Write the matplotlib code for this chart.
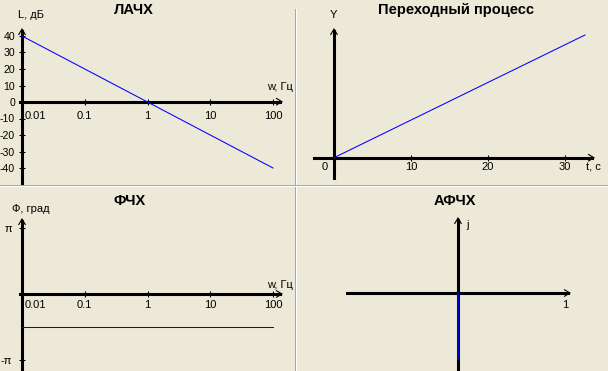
import numpy as np
import matplotlib
matplotlib.use('Agg')
import matplotlib.pyplot as plt
from matplotlib.lines import Line2D
from matplotlib.transforms import IdentityTransform, ScaledTranslation

# ---- data ----
w_lachx = [0.01, 100]
L_db = [40, -40]
w_fchx = [0.01, 100]
phi_fchx = [-np.pi / 2, -np.pi / 2]
t_step = [0, 32.6]
y_step = [0, 32.6]
re_afchx = [0, 0]
im_afchx = [0, -0.62]

freq_ticks = [0.01, 0.1, 1, 10, 100]
freq_labels = ['0.01', '0.1', '1', '10', '100']
db_ticks = [40, 30, 20, 10, 0, -10, -20, -30, -40]
db_labels = ['40', '30', '20', '10', '0', '-10', '-20', '-30', '-40']
t_ticks = [10, 20, 30]
phi_ticks = [np.pi, -np.pi]
phi_labels = ['π', '-π']

W, H = 608, 371
bg = '#ECE9D8'
blue = '#0000FF'

plt.rcParams['font.family'] = ['Liberation Sans', 'DejaVu Sans']
plt.rcParams['font.size'] = 8

fig = plt.figure(figsize=(W / 100, H / 100), dpi=100, facecolor=bg)


def place(L, T, R, B):
    ax = fig.add_axes([L / W, 1 - B / H, (R - L) / W, (B - T) / H])
    ax.set_facecolor('none')
    ax.spines['top'].set_visible(False)
    ax.spines['right'].set_visible(False)
    for s in ('left', 'bottom'):
        ax.spines[s].set_linewidth(2.2)
    return ax


def inv(ax, px, py):
    return ax.transData.inverted().transform((px, H - py))


def arrow(x0, y0, x1, y1):
    plt.annotate('', xy=(x1, H - y1), xytext=(x0, H - y0), xycoords='figure pixels',
                 textcoords='figure pixels',
                 arrowprops=dict(arrowstyle='->,head_length=0.5,head_width=0.3',
                                 lw=0.8, color='black', shrinkA=0, shrinkB=0))


def axis_lines(ax, hx0, hx1, hy, vx, vy0, vy1):
    # horizontal axis from hx0 to hx1 (pixels) at row hy, vertical at column vx
    ax.spines['bottom'].set_position(('data', 0))
    ax.spines['bottom'].set_bounds(inv(ax, hx0, hy)[0], inv(ax, hx1 - 3, hy)[0])
    ax.spines['left'].set_bounds(inv(ax, vx, vy0)[1], inv(ax, vx, vy1 + 3)[1])
    arrow(hx1 - 8, hy, hx1, hy)
    arrow(vx, vy1 + 8, vx, vy1)


def shift_first_label(ax):
    lab = ax.get_xticklabels()[0]
    lab.set_horizontalalignment('left')
    lab.set_transform(lab.get_transform() + ScaledTranslation(3 / 100, 0, fig.dpi_scale_trans))


def ftext(px, py, s, **kw):
    fig.text(px / W, 1 - py / H, s, **kw)


# ---- ЛАЧХ ----
ax1 = place(22, 36, 273, 168)
ax1.set_xscale('log')
ax1.set_xlim(0.01, 100)
ax1.set_ylim(-40, 40)
axis_lines(ax1, 20, 283, 101.7, 22, 184, 28)
ax1.plot(w_lachx, L_db, color=blue, lw=0.75, clip_on=False, zorder=3)
ax1.set_xticks(freq_ticks, freq_labels)
ax1.set_xticks([], minor=True)
ax1.set_yticks(db_ticks, db_labels)
ax1.tick_params(axis='x', direction='inout', length=4.3, width=0.8, pad=4)
ax1.tick_params(axis='y', direction='inout', length=5, width=0.8, pad=2.5, labelsize=7.6)
shift_first_label(ax1)

ftext(134, 10, 'ЛАЧХ', ha='center', va='center', fontweight='bold', fontsize=10.5)
ftext(18, 15, 'L, дБ', ha='left', va='center')
ftext(293, 87, 'w, Гц', ha='right', va='center')

# ---- Переходный процесс ----
ax2 = place(334, 35, 565, 157.7)
ax2.set_xlim(0, 30)
ax2.set_ylim(0, y_step[-1])
axis_lines(ax2, 314, 595, 157.7, 334, 178, 28)
ax2.plot(t_step, y_step, color=blue, lw=0.75, clip_on=False, zorder=3)
ax2.set_xticks(t_ticks)
ax2.set_yticks([])
ax2.tick_params(axis='x', direction='inout', length=4.3, width=0.8, pad=1)

ftext(456, 10, 'Переходный процесс', ha='center', va='center', fontweight='bold', fontsize=10.5)
ftext(333, 15, 'Y', ha='center', va='center')
ftext(586, 167, 't, c', ha='left', va='center')
ftext(325, 167, '0', ha='center', va='center')

# ---- ФЧХ ----
ax3 = place(22, 228, 273, 360)
ax3.set_xscale('log')
ax3.set_xlim(0.01, 100)
ax3.set_ylim(-np.pi, np.pi)
axis_lines(ax3, 20, 283, 294, 22, 372, 218)
ax3.plot(w_fchx, phi_fchx, color=blue, lw=0.75, clip_on=False, zorder=3)
ax3.set_xticks(freq_ticks, freq_labels)
ax3.set_xticks([], minor=True)
ax3.set_yticks(phi_ticks, phi_labels)
ax3.tick_params(axis='x', direction='inout', length=4.3, width=0.8, pad=2)
ax3.tick_params(axis='y', direction='inout', length=5, width=0.8, pad=4.5)
shift_first_label(ax3)

ftext(130, 201, 'ФЧХ', ha='center', va='center', fontweight='bold', fontsize=10.5)
ftext(12, 209, 'Ф, град', ha='left', va='center')
ftext(293, 285, 'w, Гц', ha='right', va='center')

# ---- АФЧХ ----
ax4 = place(458, 293, 565, 359)
ax4.set_xlim(0, 1)
ax4.set_ylim(im_afchx[-1], 0)
axis_lines(ax4, 347, 571, 293, 458, 372, 217)
ax4.plot(re_afchx, im_afchx, color=blue, lw=1.2, clip_on=False, zorder=3)
ax4.set_xticks([1], ['1'])
ax4.set_yticks([])
ax4.tick_params(axis='x', length=0, pad=5)

ftext(455, 201, 'АФЧХ', ha='center', va='center', fontweight='bold', fontsize=10.5)
ftext(468, 225, 'j', ha='center', va='center')

# ---- panel separators ----
for x0, y0, x1, y1, c in [(294.5, 9, 294.5, 184, '#ACA899'), (295.5, 9, 295.5, 184, 'white'),
                          (294.5, 187, 294.5, 371, '#ACA899'), (295.5, 187, 295.5, 371, 'white'),
                          (0, 184.5, 608, 184.5, '#ACA899'), (0, 185.5, 608, 185.5, 'white')]:
    fig.add_artist(Line2D([x0, x1], [H - y0, H - y1], transform=IdentityTransform(),
                          color=c, lw=0.72))

fig.savefig('out.png', dpi=100, facecolor=bg)
